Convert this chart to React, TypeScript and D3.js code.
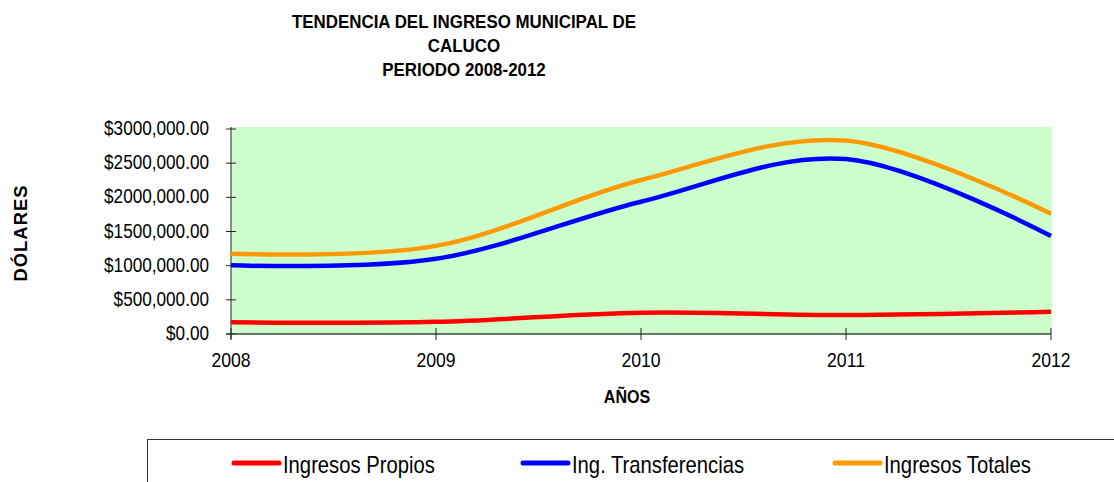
import React, { useEffect, useRef } from 'react';
import * as d3 from 'd3';

const years = [2008, 2009, 2010, 2011, 2012];
const ingresosPropios = [172000, 178000, 312000, 278000, 326000];
const transferencias = [1005000, 1100000, 1936000, 2560000, 1434000];
const ingresosTotales = [1175000, 1290000, 2254000, 2830000, 1760000];

const yTicks = [0, 500000, 1000000, 1500000, 2000000, 2500000, 3000000];
const yTickLabels = ['$0.00', '$500,000.00', '$1000,000.00', '$1500,000.00', '$2000,000.00', '$2500,000.00', '$3000,000.00'];
const seriesNames = ['Ingresos Propios', 'Ing. Transferencias', 'Ingresos Totales'];
const seriesColors = ['#FF0000', '#0000FF', '#FF9900'];
const titleLines = ['TENDENCIA DEL INGRESO MUNICIPAL DE', 'CALUCO', 'PERIODO 2008-2012'];

const FONT = '"Liberation Sans", Arial, sans-serif';

function App() {
  const svgRef = useRef<SVGSVGElement>(null);

  useEffect(() => {
    const svg = d3.select(svgRef.current);
    svg.selectAll('*').remove();

    const plot = { left: 231, right: 1051, top: 129, bottom: 334 };

    const x = d3.scaleLinear().domain([2008, 2012]).range([plot.left, plot.right]);
    const y = d3.scaleLinear().domain([0, 3000000]).range([plot.bottom, plot.top]);

    // narrow-looking text: scale horizontally
    const narrowText = (g: any, tx: number, ty: number, sx: number, txt: string, size: number, anchor: string, weight = 'normal') => {
      g.append('g')
        .attr('transform', `translate(${tx},${ty}) scale(${sx},1)`)
        .append('text')
        .attr('text-anchor', anchor)
        .attr('font-family', FONT)
        .attr('font-size', size)
        .attr('font-weight', weight)
        .attr('fill', '#000')
        .text(txt);
    };

    // title
    titleLines.forEach((t, i) => {
      narrowText(svg, 464, 28 + i * 24, 0.94, t, 18, 'middle', 'bold');
    });

    // plot background
    svg.append('rect')
      .attr('x', plot.left)
      .attr('y', plot.top - 2)
      .attr('width', plot.right - plot.left + 1)
      .attr('height', plot.bottom - plot.top + 2)
      .attr('fill', '#CCFFCC');

    // y axis
    svg.append('line')
      .attr('x1', plot.left).attr('x2', plot.left)
      .attr('y1', plot.top - 2).attr('y2', plot.bottom + 5)
      .attr('stroke', '#222').attr('stroke-width', 1);
    yTicks.forEach((v, i) => {
      svg.append('line')
        .attr('x1', plot.left - 5).attr('x2', plot.left + 5)
        .attr('y1', y(v)).attr('y2', y(v))
        .attr('stroke', '#222').attr('stroke-width', 1);
      narrowText(svg, 209, y(v) + 6, 0.88, yTickLabels[i], 19.5, 'end');
    });

    // x axis
    svg.append('line')
      .attr('x1', plot.left - 5).attr('x2', plot.right)
      .attr('y1', plot.bottom).attr('y2', plot.bottom)
      .attr('stroke', '#3a4a3a').attr('stroke-width', 1.5);
    years.forEach(yr => {
      svg.append('line')
        .attr('x1', x(yr)).attr('x2', x(yr))
        .attr('y1', plot.bottom - 6).attr('y2', plot.bottom + 6)
        .attr('stroke', '#222').attr('stroke-width', 1);
      narrowText(svg, x(yr), 367, 0.86, String(yr), 20.5, 'middle');
    });

    // axis titles
    svg.append('text')
      .attr('transform', `translate(27,233) rotate(-90) scale(1.05,1)`)
      .attr('text-anchor', 'middle')
      .attr('font-family', FONT)
      .attr('font-size', 17.5)
      .attr('font-weight', 'bold')
      .attr('letter-spacing', 1)
      .text('DÓLARES');
    narrowText(svg, 627, 403, 0.92, 'AÑOS', 17.5, 'middle', 'bold');

    // lines
    const line = d3.line<number>()
      .x((d, i) => x(years[i]))
      .y(d => y(d))
      .curve(d3.curveCardinal.tension(0));

    [ingresosPropios, transferencias, ingresosTotales].forEach((s, i) => {
      svg.append('path')
        .datum(s)
        .attr('fill', 'none')
        .attr('stroke', seriesColors[i])
        .attr('stroke-width', 4.5)
        .attr('d', line);
    });

    // legend
    svg.append('rect')
      .attr('x', 147.5)
      .attr('y', 439.5)
      .attr('width', 1000)
      .attr('height', 100)
      .attr('fill', '#fff')
      .attr('stroke', '#333')
      .attr('stroke-width', 1);
    const legendX = [234, 523, 835];
    seriesNames.forEach((name, i) => {
      svg.append('line')
        .attr('x1', legendX[i]).attr('x2', legendX[i] + 45)
        .attr('y1', 463).attr('y2', 463)
        .attr('stroke', seriesColors[i])
        .attr('stroke-width', 5)
        .attr('stroke-linecap', 'round');
      narrowText(svg, legendX[i] + 49, 473, 0.88, name, 23, 'start');
    });
  }, []);

  return (
    <svg
      ref={svgRef}
      width={1114}
      height={482}
      style={{ position: 'absolute', left: 0, top: 0, background: '#fff' }}
    />
  );
}

export default App;
